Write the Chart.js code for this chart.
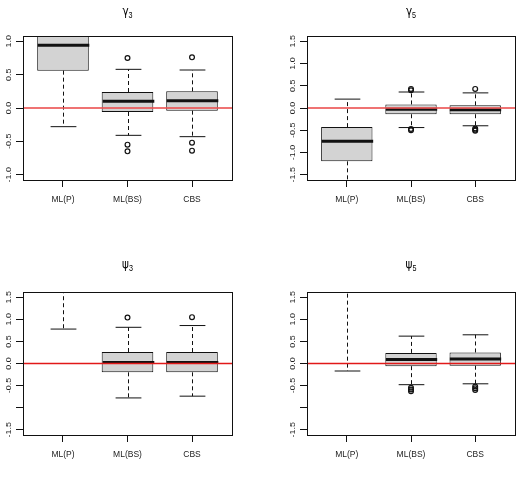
<!DOCTYPE html>
<html lang="en">
<head>
<meta charset="UTF-8" />
<title>Boxplots</title>
<script src="https://cdn.jsdelivr.net/npm/chart.js"></script>
<style>
  body { margin: 0; background: #fff; }
  .panel { position: absolute; width: 262px; }
  #p1 { left: 0; top: 0; height: 240px; }
  #p2 { left: 262px; top: 0; height: 240px; }
  #p3 { left: 0; top: 240px; height: 242px; }
  #p4 { left: 262px; top: 240px; height: 242px; }
</style>
</head>
<body>
<div class="panel" id="p1"><canvas id="c1"></canvas></div>
<div class="panel" id="p2"><canvas id="c2"></canvas></div>
<div class="panel" id="p3"><canvas id="c3"></canvas></div>
<div class="panel" id="p4"><canvas id="c4"></canvas></div>
<script>
const categories = ['ML(P)', 'ML(BS)', 'CBS'];

// gamma_3
const g3Low = [-0.28, -0.41, -0.43];
const g3Q1 = [0.56, -0.06, -0.04];
const g3Med = [0.94, 0.10, 0.11];
const g3Q3 = [1.35, 0.24, 0.25];
const g3High = [2.1, 0.58, 0.57];
const g3Out = [[], [0.75, -0.55, -0.65], [0.76, -0.52, -0.64]];
const g3Ticks = [-1, -0.5, 0, 0.5, 1];
const g3TickLabels = ['-1.0', '-0.5', '0.0', '0.5', '1.0'];

// gamma_5
const g5Low = [-1.9, -0.44, -0.40];
const g5Q1 = [-1.20, -0.14, -0.14];
const g5Med = [-0.75, -0.03, -0.04];
const g5Q3 = [-0.43, 0.08, 0.06];
const g5High = [0.20, 0.36, 0.34];
const g5Out = [[], [0.43, 0.40, -0.47, -0.50], [0.43, -0.46, -0.49, -0.51]];

const wideTicks = [-1.5, -1, -0.5, 0, 0.5, 1, 1.5];
const g5TickLabels = ['-1.5', '-1.0', '-0.5', '0.0', '0.5', '1.0', '1.5'];
const psiTickLabels = ['-1.5', '', '-0.5', '0.0', '0.5', '1.0', '1.5'];

// psi_3
const p3Low = [0.78, -0.78, -0.74];
const p3Q1 = [2.0, -0.20, -0.20];
const p3Med = [2.6, 0.02, 0.02];
const p3Q3 = [3.3, 0.26, 0.26];
const p3High = [5.0, 0.82, 0.86];
const p3Out = [[], [1.04], [1.05]];

// psi_5
const p5Low = [-0.17, -0.48, -0.46];
const p5Q1 = [1.9, -0.06, -0.05];
const p5Med = [2.5, 0.09, 0.10];
const p5Q3 = [3.2, 0.24, 0.25];
const p5High = [4.8, 0.62, 0.65];
const p5Out = [[], [-0.55, -0.59, -0.63], [-0.52, -0.56, -0.60]];

function line(ctx, x1, y1, x2, y2) {
  ctx.beginPath();
  ctx.moveTo(x1, y1);
  ctx.lineTo(x2, y2);
  ctx.stroke();
}

// whiskers, medians, zero line, frame, rotated y labels and title
function boxParts(o) {
  return {
    id: 'boxParts',
    afterDatasetsDraw(chart) {
      const { ctx, chartArea: a, scales: { x, y } } = chart;
      ctx.save();
      ctx.beginPath();
      ctx.rect(a.left, a.top, a.right - a.left, a.bottom - a.top);
      ctx.clip();
      ctx.strokeStyle = '#111';
      o.med.forEach((m, i) => {
        const cx = Math.round(x.getPixelForValue(i + 1)) + 0.5;
        const half = x.getPixelForValue(i + 1.4) - x.getPixelForValue(i + 1);
        const cap = half / 2;
        const yHi = y.getPixelForValue(o.high[i]);
        const yLo = y.getPixelForValue(o.low[i]);
        ctx.lineWidth = 1;
        ctx.setLineDash([4, 3]);
        line(ctx, cx, y.getPixelForValue(o.q3[i]), cx, yHi);
        line(ctx, cx, y.getPixelForValue(o.q1[i]), cx, yLo);
        ctx.setLineDash([]);
        line(ctx, cx - cap, yHi, cx + cap, yHi);
        line(ctx, cx - cap, yLo, cx + cap, yLo);
        ctx.lineWidth = 3;
        const ym = y.getPixelForValue(m);
        line(ctx, cx - half, ym, cx + half, ym);
      });
      ctx.restore();

      ctx.save();
      ctx.strokeStyle = '#111';
      ctx.lineWidth = 1;
      ctx.strokeRect(Math.round(a.left) + 0.5, Math.round(a.top) + 0.5,
        Math.round(a.right - a.left), Math.round(a.bottom - a.top));

      ctx.fillStyle = '#222';
      ctx.font = '9px "Liberation Sans", Arial, sans-serif';
      ctx.textAlign = 'center';
      ctx.textBaseline = 'middle';
      o.ticks.forEach((t, i) => {
        const py = y.getPixelForValue(t);
        ctx.save();
        ctx.translate(a.left - 14, py);
        ctx.scale(0.75, 1);
        ctx.rotate(-Math.PI / 2);
        ctx.fillText(o.tickLabels[i], 0, 0);
        ctx.restore();
      });

      // title: greek letter with subscript
      ctx.save();
      ctx.translate((a.left + a.right) / 2, o.titleY);
      ctx.scale(0.8, 1);
      ctx.font = '13px "DejaVu Sans", sans-serif';
      const w1 = ctx.measureText(o.symbol).width;
      ctx.font = '9px "Liberation Sans", Arial, sans-serif';
      const w2 = ctx.measureText(o.sub).width;
      const start = -(w1 + w2) / 2;
      ctx.textAlign = 'left';
      ctx.textBaseline = 'alphabetic';
      ctx.fillStyle = '#000';
      ctx.font = '13px "DejaVu Sans", sans-serif';
      ctx.fillText(o.symbol, start, 0);
      ctx.font = '9px "Liberation Sans", Arial, sans-serif';
      ctx.fillText(o.sub, start + w1, 2.5);
      ctx.restore();
      ctx.restore();
    },
    // reference line at zero, drawn last so it sits over the boxes
    afterDraw(chart) {
      const { ctx, chartArea: a, scales: { y } } = chart;
      ctx.save();
      ctx.strokeStyle = o.zeroColor;
      ctx.lineWidth = o.zeroWidth;
      const y0 = y.getPixelForValue(0);
      line(ctx, a.left + 1, y0, a.right, y0);
      ctx.restore();
    }
  };
}

function makePanel(id, p) {
  const boxes = categories.map((c, i) => ({ x: i + 1, y: [p.q1[i], p.q3[i]] }));
  const outliers = p.out.flatMap((list, i) => list.map(v => ({ x: i + 1, y: v })));
  new Chart(document.getElementById(id), {
    type: 'bar',
    data: {
      datasets: [{
        data: boxes,
        backgroundColor: '#D3D3D3',
        borderColor: '#111',
        borderWidth: 1,
        borderSkipped: false,
        barPercentage: 0.8,
        categoryPercentage: 1
      }, {
        type: 'line',
        data: outliers,
        showLine: false,
        pointRadius: 2.4,
        pointBorderWidth: 1.2,
        pointBorderColor: '#111',
        pointBackgroundColor: 'rgba(0,0,0,0)'
      }]
    },
    options: {
      responsive: true,
      maintainAspectRatio: false,
      animation: false,
      layout: { padding: { left: 0, top: p.top, right: p.right, bottom: 0 } },
      plugins: {
        legend: { display: false },
        tooltip: { enabled: false }
      },
      scales: {
        x: {
          type: 'linear',
          min: 0.38,
          max: 3.62,
          offset: false,
          afterBuildTicks: s => { s.ticks = categories.map((c, i) => ({ value: i + 1 })); },
          afterFit: s => { s.height = p.xHeight; },
          ticks: {
            callback: (v, i) => categories[i],
            color: '#222',
            padding: 8,
            maxRotation: 0,
            autoSkip: false,
            font: { family: '"Liberation Sans Narrow", "Liberation Sans", Arial', size: 8.5 }
          },
          grid: { offset: false, drawOnChartArea: false, drawTicks: true, tickLength: 7, color: '#111' },
          border: { display: true, color: '#111' }
        },
        y: {
          min: p.yMin,
          max: p.yMax,
          afterBuildTicks: s => { s.ticks = p.ticks.map(v => ({ value: v })); },
          afterFit: s => { s.width = p.yWidth; },
          ticks: { display: false },
          grid: { drawOnChartArea: false, drawTicks: true, tickLength: 7, color: '#111' },
          border: { display: true, color: '#111' }
        }
      }
    },
    plugins: [boxParts(p)]
  });
}

makePanel('c1', {
  low: g3Low, q1: g3Q1, med: g3Med, q3: g3Q3, high: g3High, out: g3Out,
  ticks: g3Ticks, tickLabels: g3TickLabels, yMin: -1.08, yMax: 1.08,
  top: 36, right: 30, yWidth: 23, xHeight: 60, titleY: 15,
  zeroColor: 'rgba(235,80,80,0.8)', zeroWidth: 2, symbol: 'γ', sub: '3'
});
makePanel('c2', {
  low: g5Low, q1: g5Q1, med: g5Med, q3: g5Q3, high: g5High, out: g5Out,
  ticks: wideTicks, tickLabels: g5TickLabels, yMin: -1.62, yMax: 1.62,
  top: 36, right: 9, yWidth: 45, xHeight: 60, titleY: 15,
  zeroColor: 'rgba(235,80,80,0.8)', zeroWidth: 2, symbol: 'γ', sub: '5'
});
makePanel('c3', {
  low: p3Low, q1: p3Q1, med: p3Med, q3: p3Q3, high: p3High, out: p3Out,
  ticks: wideTicks, tickLabels: psiTickLabels, yMin: -1.62, yMax: 1.62,
  top: 52, right: 30, yWidth: 23, xHeight: 47, titleY: 28,
  zeroColor: 'rgb(225,25,25)', zeroWidth: 1.3, symbol: 'ψ', sub: '3'
});
makePanel('c4', {
  low: p5Low, q1: p5Q1, med: p5Med, q3: p5Q3, high: p5High, out: p5Out,
  ticks: wideTicks, tickLabels: psiTickLabels, yMin: -1.62, yMax: 1.62,
  top: 52, right: 9, yWidth: 45, xHeight: 47, titleY: 28,
  zeroColor: 'rgb(225,25,25)', zeroWidth: 1.3, symbol: 'ψ', sub: '5'
});
</script>
</body>
</html>
